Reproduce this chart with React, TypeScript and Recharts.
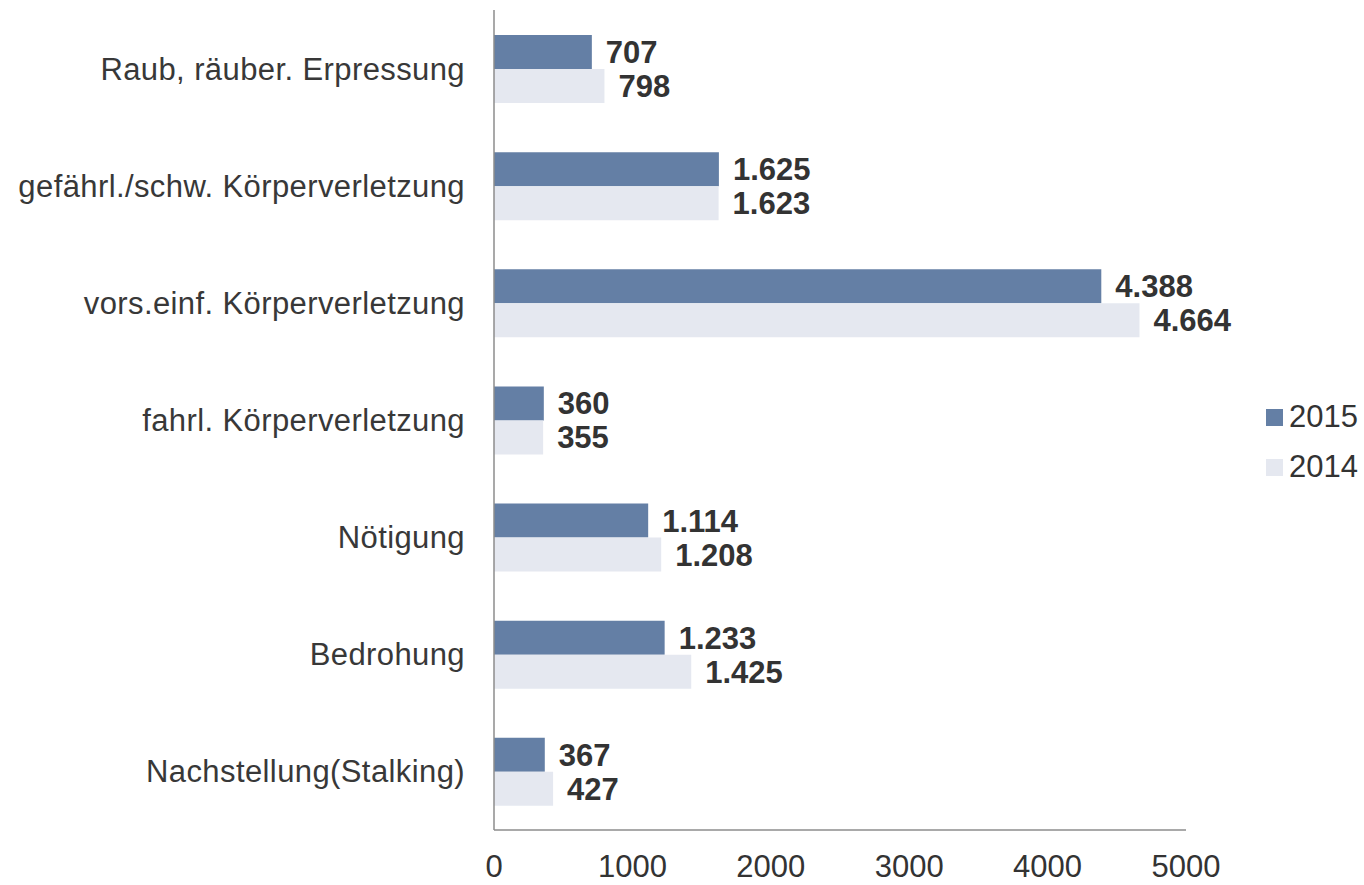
import { BarChart, Bar, XAxis, YAxis, LabelList } from 'recharts';

const categories = [
  'Raub, räuber. Erpressung',
  'gefährl./schw. Körperverletzung',
  'vors.einf. Körperverletzung',
  'fahrl. Körperverletzung',
  'Nötigung',
  'Bedrohung',
  'Nachstellung(Stalking)',
];

const values2015 = [707, 1625, 4388, 360, 1114, 1233, 367];
const values2014 = [798, 1623, 4664, 355, 1208, 1425, 427];

const xTicks = [0, 1000, 2000, 3000, 4000, 5000];

const series = [
  { key: 'y2015', name: '2015', color: '#647FA5' },
  { key: 'y2014', name: '2014', color: '#E5E8F0' },
];

const data = categories.map((name, i) => ({
  name,
  y2015: values2015[i],
  y2014: values2014[i],
}));

const FONT = "Arial, 'Liberation Sans', sans-serif";

// German thousands separator: 1625 -> 1.625
const formatDe = (v: any) => String(v).replace(/\B(?=(\d{3})+(?!\d))/g, '.');

export default function App() {
  return (
    <div style={{ position: 'absolute', left: 0, top: 0, width: 1364, height: 885, background: '#fff' }}>
      <BarChart
        width={1364}
        height={885}
        data={data}
        layout="vertical"
        margin={{ top: 10, right: 178, bottom: 0, left: 0 }}
        barCategoryGap={25}
        barGap={0}
      >
        <XAxis
          type="number"
          domain={[0, 5000]}
          ticks={xTicks}
          height={55}
          tickLine={false}
          tickMargin={19}
          axisLine={{ stroke: '#8c8c8c', strokeWidth: 1.5 }}
          tick={{ fill: '#333', fontSize: 31, fontFamily: FONT }}
        />
        <YAxis
          type="category"
          dataKey="name"
          width={494}
          tickLine={false}
          tickMargin={23}
          axisLine={{ stroke: '#8c8c8c', strokeWidth: 1.5 }}
          tick={{ fill: '#383838', fontSize: 31, fontFamily: FONT, letterSpacing: 0.4 }}
        />
        {series.map((s) => (
          <Bar key={s.key} dataKey={s.key} name={s.name} fill={s.color} isAnimationActive={false}>
            <LabelList
              dataKey={s.key}
              position="right"
              offset={14}
              formatter={formatDe}
              style={{ fill: '#333', fontSize: 31, fontWeight: 'bold', fontFamily: FONT }}
            />
          </Bar>
        ))}
      </BarChart>
      <div style={{ position: 'absolute', left: 1266, top: 392, fontFamily: FONT, fontSize: 31, color: '#333' }}>
        {series.map((s) => (
          <div key={s.key} style={{ display: 'flex', alignItems: 'center', height: 50 }}>
            <span style={{ display: 'inline-block', width: 17, height: 17, background: s.color, marginRight: 6 }} />
            <span>{s.name}</span>
          </div>
        ))}
      </div>
    </div>
  );
}
